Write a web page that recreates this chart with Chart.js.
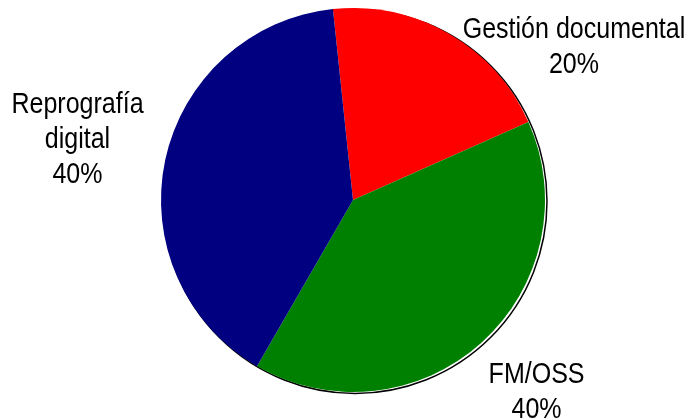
<!DOCTYPE html>
<html>
<head>
<meta charset="utf-8">
<script src="https://cdn.jsdelivr.net/npm/chart.js@4.4.0/dist/chart.umd.min.js"></script>
<style>
  html, body { margin: 0; padding: 0; background: #fff; }
  #wrap { width: 689px; height: 420px; }
</style>
</head>
<body>
<div id="wrap"><canvas id="pieChart" width="689" height="420"></canvas></div>
<script>
const categories = ['Gestión documental', 'FM/OSS', 'Reprografía digital'];
const labelLines = [['Gestión documental'], ['FM/OSS'], ['Reprografía', 'digital']];
const values = [20, 40, 40];
const colors = ['#ff0000', '#008000', '#000080'];
// label anchor (center x, first baseline) as multiples of the radius, from the pie center
const labelSpots = [[1.151, -0.844], [0.956, 0.953], [-1.435, -0.453]];

const labelFont = '30px "Liberation Sans Narrow", "Liberation Sans", Arial, sans-serif';
const narrow = 0.834; // squeeze to look like Arial Narrow

const shadowPlugin = {
  id: 'shadow',
  beforeDatasetsDraw(chart) {
    const arc = chart.getDatasetMeta(0).data[0];
    const ctx = chart.ctx;
    ctx.save();
    ctx.beginPath();
    ctx.arc(arc.x + 2, arc.y + 1.5, arc.outerRadius, 0, Math.PI * 2);
    ctx.lineWidth = 1.5;
    ctx.strokeStyle = '#000';
    ctx.stroke();
    ctx.restore();
  }
};

const labelPlugin = {
  id: 'outLabels',
  afterDraw(chart) {
    const arc = chart.getDatasetMeta(0).data[0];
    const ctx = chart.ctx;
    const total = values.reduce((a, b) => a + b, 0);
    ctx.save();
    ctx.font = labelFont;
    ctx.fillStyle = '#000';
    ctx.textAlign = 'center';
    ctx.textBaseline = 'alphabetic';
    for (let i = 0; i < categories.length; i++) {
      const x = arc.x + arc.outerRadius * labelSpots[i][0];
      let y = arc.y + arc.outerRadius * labelSpots[i][1];
      const lines = labelLines[i].concat([Math.round(values[i] / total * 100) + '%']);
      lines.forEach(function (t) {
        ctx.save();
        ctx.translate(x, y);
        ctx.scale(narrow, 1);
        ctx.fillText(t, 0, 0);
        ctx.restore();
        y += 35;
      });
    }
    ctx.restore();
  }
};

new Chart(document.getElementById('pieChart'), {
  type: 'pie',
  data: {
    labels: categories,
    datasets: [{
      data: values,
      backgroundColor: colors,
      borderWidth: 0
    }]
  },
  options: {
    responsive: false,
    animation: false,
    rotation: -6,
    layout: { padding: { left: 161, right: 144, top: 8, bottom: 28 } },
    plugins: {
      legend: { display: false },
      tooltip: { enabled: false }
    }
  },
  plugins: [shadowPlugin, labelPlugin]
});
</script>
</body>
</html>
